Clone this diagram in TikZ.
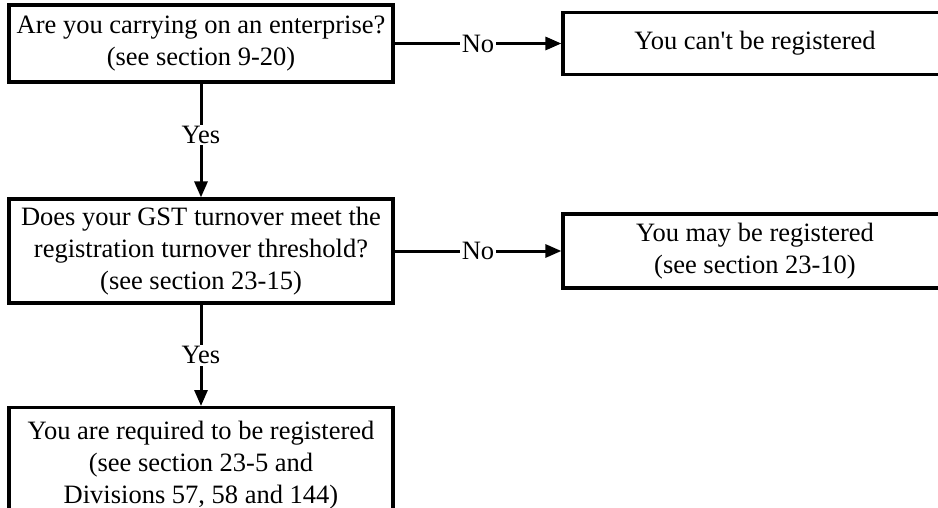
\documentclass[tikz,border=0pt]{standalone}
\usepackage{fontspec}
\setmainfont{Liberation Serif}
\usetikzlibrary{arrows.meta,positioning}

\begin{document}
\begin{tikzpicture}[x=1pt,y=1pt,node distance=207.5pt and 554pt,on grid,
   box/.style={draw,line width=3.2pt,align=center,inner sep=0pt,
     font=\fontsize{26.5}{32}\selectfont},
   qbox/.style={box,minimum width=384pt},
   abox/.style={box,minimum width=384pt},
   flow/.style={line width=3pt,-{Triangle[length=16pt,width=13pt]}},
   lbl/.style={fill=white,inner sep=1.5pt,font=\fontsize{26.5}{32}\selectfont}]
   \useasboundingbox (0,0) rectangle (938,-508);
   \node[qbox,minimum height=77pt] (enterprise) at (201,-43.5)
      {Are you carrying on an enterprise?\\(see section 9-20)};
   \node[abox,minimum height=62pt] (cant) [right=of enterprise]
      {You can\textquotesingle t be registered};
   \node[qbox,minimum height=104pt] (turnover) [below=of enterprise]
      {Does your GST turnover meet the\\registration turnover threshold?\\(see section 23-15)};
   \node[abox,minimum height=74pt] (may) [right=of turnover]
      {You may be registered\\(see section 23-10)};
   \node[qbox,minimum height=116pt,anchor=north] (required) at (201,-406)
      {You are required to be registered\\(see section 23-5 and\\Divisions 57, 58 and 144)};
    \path[flow]
    (enterprise) edge node[lbl] {No} (cant)
    (enterprise) edge node[lbl,pos=.45] {Yes} (turnover)
    (turnover) edge node[lbl] {No} (may)
    (turnover) edge node[lbl] {Yes} (required);
\end{tikzpicture}
\end{document}
